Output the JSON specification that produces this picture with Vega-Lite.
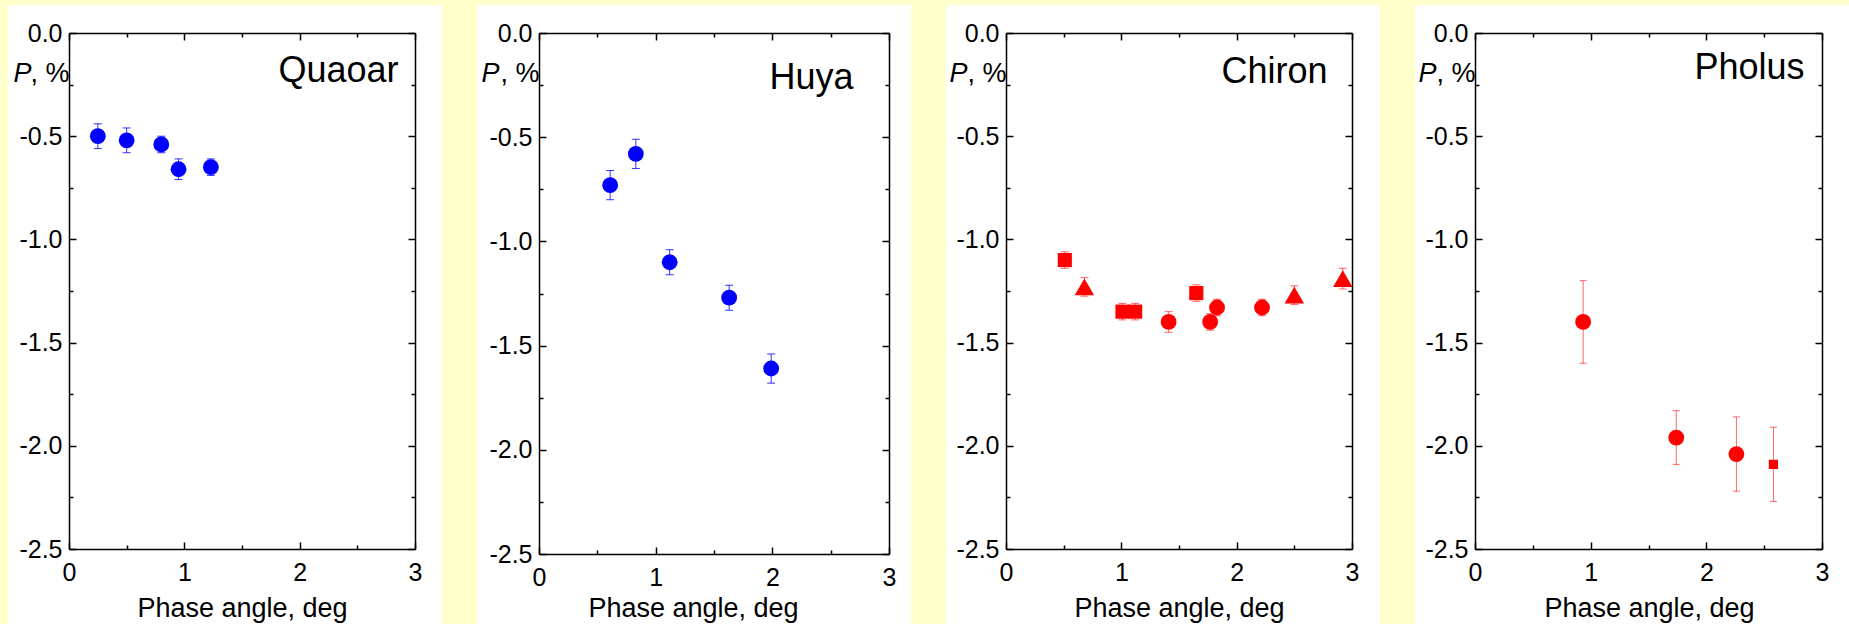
{
  "$schema": "https://vega.github.io/schema/vega-lite/v6.json",
  "background": "#FFFFCC",
  "padding": {"left": 8, "top": 5, "right": 0, "bottom": 0},
  "autosize": {"type": "pad"},
  "bounds": "flush",
  "spacing": 35,
  "config": {
    "font": "Liberation Sans",
    "view": {"fill": "white", "stroke": null},
    "axis": {
      "domainColor": "#000000", "domainWidth": 1.5, "tickColor": "#000000", "tickWidth": 1.5,
      "labelFontSize": 25, "labelColor": "#000000", "labelFont": "Liberation Sans",
      "titleFont": "Liberation Sans", "titleColor": "#000000", "titleFontWeight": "normal", "titleFontSize": 27,
      "grid": false, "labelOverlap": false, "labelFlush": false, "labelBound": false, "zindex": 1,
      "titleAngle": 0, "titleLimit": 1000
    }
  },
  "data": {"values": [
    {"object": "Quaoar", "phase": 0.25, "P": -0.50, "err": 0.06, "symbol": "circle"},
    {"object": "Quaoar", "phase": 0.50, "P": -0.52, "err": 0.06, "symbol": "circle"},
    {"object": "Quaoar", "phase": 0.80, "P": -0.54, "err": 0.04, "symbol": "circle"},
    {"object": "Quaoar", "phase": 0.95, "P": -0.66, "err": 0.05, "symbol": "circle"},
    {"object": "Quaoar", "phase": 1.23, "P": -0.65, "err": 0.04, "symbol": "circle"},
    {"object": "Huya", "phase": 0.61, "P": -0.73, "err": 0.07, "symbol": "circle"},
    {"object": "Huya", "phase": 0.83, "P": -0.58, "err": 0.07, "symbol": "circle"},
    {"object": "Huya", "phase": 1.12, "P": -1.10, "err": 0.06, "symbol": "circle"},
    {"object": "Huya", "phase": 1.63, "P": -1.27, "err": 0.06, "symbol": "circle"},
    {"object": "Huya", "phase": 1.99, "P": -1.61, "err": 0.07, "symbol": "circle"},
    {"object": "Chiron", "phase": 0.51, "P": -1.10, "err": 0.04, "symbol": "square"},
    {"object": "Chiron", "phase": 0.68, "P": -1.23, "err": 0.045, "symbol": "triangle"},
    {"object": "Chiron", "phase": 1.01, "P": -1.35, "err": 0.04, "symbol": "square"},
    {"object": "Chiron", "phase": 1.12, "P": -1.35, "err": 0.04, "symbol": "square"},
    {"object": "Chiron", "phase": 1.41, "P": -1.40, "err": 0.05, "symbol": "circle"},
    {"object": "Chiron", "phase": 1.65, "P": -1.26, "err": 0.04, "symbol": "square"},
    {"object": "Chiron", "phase": 1.77, "P": -1.40, "err": 0.04, "symbol": "circle"},
    {"object": "Chiron", "phase": 1.83, "P": -1.33, "err": 0.04, "symbol": "circle"},
    {"object": "Chiron", "phase": 2.22, "P": -1.33, "err": 0.04, "symbol": "circle"},
    {"object": "Chiron", "phase": 2.50, "P": -1.27, "err": 0.045, "symbol": "triangle"},
    {"object": "Chiron", "phase": 2.92, "P": -1.19, "err": 0.05, "symbol": "triangle"},
    {"object": "Pholus", "phase": 0.935, "P": -1.40, "err": 0.20, "symbol": "circle"},
    {"object": "Pholus", "phase": 1.74, "P": -1.96, "err": 0.13, "symbol": "circle"},
    {"object": "Pholus", "phase": 2.26, "P": -2.04, "err": 0.18, "symbol": "circle"},
    {"object": "Pholus", "phase": 2.58, "P": -2.09, "err": 0.18, "symbol": "small square"}
  ]},
  "hconcat": [
    {
      "width": 434, "height": 619,
      "transform": [{"filter": "datum.object === 'Quaoar'"}],
      "layer": [
        {
          "mark": {"type": "errorbar", "color": "#0000FF", "opacity": 0.8, "thickness": 1, "ticks": {"size": 8, "thickness": 1}},
          "encoding": {
            "x": {"field": "phase", "type": "quantitative",
              "scale": {"domain": [0, 3], "range": [61, 407], "nice": false, "zero": false},
              "axis": {"orient": "top", "offset": -28, "values": [0, 0.5, 1, 1.5, 2, 2.5, 3],
                "tickSize": {"condition": {"test": "datum.value % 1 === 0", "value": -7}, "value": -4},
                "labels": false, "title": "Quaoar", "titleFontSize": 36, "titleX": 390, "titleY": 48,
                "titleAlign": "right", "titleBaseline": "alphabetic"}},
            "y": {"field": "P", "type": "quantitative",
              "scale": {"domain": [-2.5, 0], "range": [544, 28], "nice": false, "zero": false},
              "axis": {"orient": "right", "offset": -27, "values": [-2.5, -2.25, -2, -1.75, -1.5, -1.25, -1, -0.75, -0.5, -0.25, 0],
                "tickSize": {"condition": {"test": "datum.value % 0.5 === 0", "value": -7}, "value": -4},
                "labels": false, "title": ", %", "titleX": -346, "titleY": 76,
                "titleAlign": "right", "titleBaseline": "alphabetic", "titleAngle": 0}},
            "yError": {"field": "err"}
          }
        },
        {
          "mark": {"type": "point", "filled": true, "opacity": 1, "color": "#0000FF"},
          "encoding": {
            "x": {"field": "phase", "type": "quantitative",
              "scale": {"domain": [0, 3], "range": [61, 407], "nice": false, "zero": false},
              "axis": {"orient": "bottom", "offset": -75, "values": [0, 0.5, 1, 1.5, 2, 2.5, 3],
                "tickSize": {"condition": {"test": "datum.value % 1 === 0", "value": -7}, "value": -4},
                "labelExpr": "datum.value % 1 === 0 ? '' + datum.value : ''", "labelPadding": 18,
                "title": "Phase angle, deg", "titleX": 234, "titleY": 67, "titleAlign": "center", "titleBaseline": "alphabetic"}},
            "y": {"field": "P", "type": "quantitative",
              "scale": {"domain": [-2.5, 0], "range": [544, 28], "nice": false, "zero": false},
              "axis": {"orient": "left", "offset": -61, "values": [-2.5, -2.25, -2, -1.75, -1.5, -1.25, -1, -0.75, -0.5, -0.25, 0],
                "tickSize": {"condition": {"test": "datum.value % 0.5 === 0", "value": -7}, "value": -4},
                "labelExpr": "datum.value % 0.5 === 0 ? (datum.value < 0 ? '-' + format(-datum.value, '.1f') : format(datum.value, '.1f')) : ''",
                "labelPadding": 14,
                "title": "P", "titleFontStyle": "italic", "titleX": -56, "titleY": 76,
                "titleAlign": "left", "titleBaseline": "alphabetic", "titleAngle": 0}},
            "shape": {"field": "symbol", "type": "nominal", "legend": null,
              "scale": {"type": "ordinal", "domain": ["circle", "square", "triangle", "small square"], "range": ["circle", "square", "triangle-up", "square"]}},
            "size": {"field": "symbol", "type": "nominal", "legend": null,
              "scale": {"type": "ordinal", "domain": ["circle", "square", "triangle", "small square"], "range": [250, 200, 380, 85]}}
          }
        }
      ]
    },
    {
      "width": 434, "height": 619,
      "transform": [{"filter": "datum.object === 'Huya'"}],
      "layer": [
        {
          "mark": {"type": "errorbar", "color": "#0000FF", "opacity": 0.8, "thickness": 1, "ticks": {"size": 8, "thickness": 1}},
          "encoding": {
            "x": {"field": "phase", "type": "quantitative",
              "scale": {"domain": [0, 3], "range": [62, 412], "nice": false, "zero": false},
              "axis": {"orient": "top", "offset": -28, "values": [0, 0.5, 1, 1.5, 2, 2.5, 3],
                "tickSize": {"condition": {"test": "datum.value % 1 === 0", "value": -7}, "value": -4},
                "labels": false, "title": "Huya", "titleFontSize": 36, "titleX": 376, "titleY": 55,
                "titleAlign": "right", "titleBaseline": "alphabetic"}},
            "y": {"field": "P", "type": "quantitative",
              "scale": {"domain": [-2.5, 0], "range": [549, 28], "nice": false, "zero": false},
              "axis": {"orient": "right", "offset": -22, "values": [-2.5, -2.25, -2, -1.75, -1.5, -1.25, -1, -0.75, -0.5, -0.25, 0],
                "tickSize": {"condition": {"test": "datum.value % 0.5 === 0", "value": -7}, "value": -4},
                "labels": false, "title": ", %", "titleX": -350, "titleY": 76,
                "titleAlign": "right", "titleBaseline": "alphabetic", "titleAngle": 0}},
            "yError": {"field": "err"}
          }
        },
        {
          "mark": {"type": "point", "filled": true, "opacity": 1, "color": "#0000FF"},
          "encoding": {
            "x": {"field": "phase", "type": "quantitative",
              "scale": {"domain": [0, 3], "range": [62, 412], "nice": false, "zero": false},
              "axis": {"orient": "bottom", "offset": -70, "values": [0, 0.5, 1, 1.5, 2, 2.5, 3],
                "tickSize": {"condition": {"test": "datum.value % 1 === 0", "value": -7}, "value": -4},
                "labelExpr": "datum.value % 1 === 0 ? '' + datum.value : ''", "labelPadding": 18,
                "title": "Phase angle, deg", "titleX": 216, "titleY": 62, "titleAlign": "center", "titleBaseline": "alphabetic"}},
            "y": {"field": "P", "type": "quantitative",
              "scale": {"domain": [-2.5, 0], "range": [549, 28], "nice": false, "zero": false},
              "axis": {"orient": "left", "offset": -62, "values": [-2.5, -2.25, -2, -1.75, -1.5, -1.25, -1, -0.75, -0.5, -0.25, 0],
                "tickSize": {"condition": {"test": "datum.value % 0.5 === 0", "value": -7}, "value": -4},
                "labelExpr": "datum.value % 0.5 === 0 ? (datum.value < 0 ? '-' + format(-datum.value, '.1f') : format(datum.value, '.1f')) : ''",
                "labelPadding": 14,
                "title": "P", "titleFontStyle": "italic", "titleX": -58, "titleY": 76,
                "titleAlign": "left", "titleBaseline": "alphabetic", "titleAngle": 0}},
            "shape": {"field": "symbol", "type": "nominal", "legend": null,
              "scale": {"type": "ordinal", "domain": ["circle", "square", "triangle", "small square"], "range": ["circle", "square", "triangle-up", "square"]}},
            "size": {"field": "symbol", "type": "nominal", "legend": null,
              "scale": {"type": "ordinal", "domain": ["circle", "square", "triangle", "small square"], "range": [250, 200, 380, 85]}}
          }
        }
      ]
    },
    {
      "width": 434, "height": 619,
      "transform": [{"filter": "datum.object === 'Chiron'"}],
      "layer": [
        {
          "mark": {"type": "errorbar", "color": "#FF0000", "opacity": 0.6, "thickness": 1, "ticks": {"size": 8, "thickness": 1}},
          "encoding": {
            "x": {"field": "phase", "type": "quantitative",
              "scale": {"domain": [0, 3], "range": [60, 406], "nice": false, "zero": false},
              "axis": {"orient": "top", "offset": -28, "values": [0, 0.5, 1, 1.5, 2, 2.5, 3],
                "tickSize": {"condition": {"test": "datum.value % 1 === 0", "value": -7}, "value": -4},
                "labels": false, "title": "Chiron", "titleFontSize": 36, "titleX": 381, "titleY": 49,
                "titleAlign": "right", "titleBaseline": "alphabetic"}},
            "y": {"field": "P", "type": "quantitative",
              "scale": {"domain": [-2.5, 0], "range": [544, 28], "nice": false, "zero": false},
              "axis": {"orient": "right", "offset": -28, "values": [-2.5, -2.25, -2, -1.75, -1.5, -1.25, -1, -0.75, -0.5, -0.25, 0],
                "tickSize": {"condition": {"test": "datum.value % 0.5 === 0", "value": -7}, "value": -4},
                "labels": false, "title": ", %", "titleX": -346, "titleY": 76,
                "titleAlign": "right", "titleBaseline": "alphabetic", "titleAngle": 0}},
            "yError": {"field": "err"}
          }
        },
        {
          "mark": {"type": "point", "filled": true, "opacity": 1, "color": "#FF0000"},
          "encoding": {
            "x": {"field": "phase", "type": "quantitative",
              "scale": {"domain": [0, 3], "range": [60, 406], "nice": false, "zero": false},
              "axis": {"orient": "bottom", "offset": -75, "values": [0, 0.5, 1, 1.5, 2, 2.5, 3],
                "tickSize": {"condition": {"test": "datum.value % 1 === 0", "value": -7}, "value": -4},
                "labelExpr": "datum.value % 1 === 0 ? '' + datum.value : ''", "labelPadding": 18,
                "title": "Phase angle, deg", "titleX": 233, "titleY": 67, "titleAlign": "center", "titleBaseline": "alphabetic"}},
            "y": {"field": "P", "type": "quantitative",
              "scale": {"domain": [-2.5, 0], "range": [544, 28], "nice": false, "zero": false},
              "axis": {"orient": "left", "offset": -60, "values": [-2.5, -2.25, -2, -1.75, -1.5, -1.25, -1, -0.75, -0.5, -0.25, 0],
                "tickSize": {"condition": {"test": "datum.value % 0.5 === 0", "value": -7}, "value": -4},
                "labelExpr": "datum.value % 0.5 === 0 ? (datum.value < 0 ? '-' + format(-datum.value, '.1f') : format(datum.value, '.1f')) : ''",
                "labelPadding": 14,
                "title": "P", "titleFontStyle": "italic", "titleX": -57, "titleY": 76,
                "titleAlign": "left", "titleBaseline": "alphabetic", "titleAngle": 0}},
            "shape": {"field": "symbol", "type": "nominal", "legend": null,
              "scale": {"type": "ordinal", "domain": ["circle", "square", "triangle", "small square"], "range": ["circle", "square", "triangle-up", "square"]}},
            "size": {"field": "symbol", "type": "nominal", "legend": null,
              "scale": {"type": "ordinal", "domain": ["circle", "square", "triangle", "small square"], "range": [250, 200, 380, 85]}}
          }
        }
      ]
    },
    {
      "width": 434, "height": 619,
      "transform": [{"filter": "datum.object === 'Pholus'"}],
      "layer": [
        {
          "mark": {"type": "errorbar", "color": "#FF0000", "opacity": 0.6, "thickness": 1, "ticks": {"size": 7, "thickness": 1}},
          "encoding": {
            "x": {"field": "phase", "type": "quantitative",
              "scale": {"domain": [0, 3], "range": [60, 407], "nice": false, "zero": false},
              "axis": {"orient": "top", "offset": -28, "values": [0, 0.5, 1, 1.5, 2, 2.5, 3],
                "tickSize": {"condition": {"test": "datum.value % 1 === 0", "value": -7}, "value": -4},
                "labels": false, "title": "Pholus", "titleFontSize": 36, "titleX": 389, "titleY": 45,
                "titleAlign": "right", "titleBaseline": "alphabetic"}},
            "y": {"field": "P", "type": "quantitative",
              "scale": {"domain": [-2.5, 0], "range": [544, 28], "nice": false, "zero": false},
              "axis": {"orient": "right", "offset": -27, "values": [-2.5, -2.25, -2, -1.75, -1.5, -1.25, -1, -0.75, -0.5, -0.25, 0],
                "tickSize": {"condition": {"test": "datum.value % 0.5 === 0", "value": -7}, "value": -4},
                "labels": false, "title": ", %", "titleX": -347, "titleY": 76,
                "titleAlign": "right", "titleBaseline": "alphabetic", "titleAngle": 0}},
            "yError": {"field": "err"}
          }
        },
        {
          "mark": {"type": "point", "filled": true, "opacity": 1, "color": "#FF0000"},
          "encoding": {
            "x": {"field": "phase", "type": "quantitative",
              "scale": {"domain": [0, 3], "range": [60, 407], "nice": false, "zero": false},
              "axis": {"orient": "bottom", "offset": -75, "values": [0, 0.5, 1, 1.5, 2, 2.5, 3],
                "tickSize": {"condition": {"test": "datum.value % 1 === 0", "value": -7}, "value": -4},
                "labelExpr": "datum.value % 1 === 0 ? '' + datum.value : ''", "labelPadding": 18,
                "title": "Phase angle, deg", "titleX": 234, "titleY": 67, "titleAlign": "center", "titleBaseline": "alphabetic"}},
            "y": {"field": "P", "type": "quantitative",
              "scale": {"domain": [-2.5, 0], "range": [544, 28], "nice": false, "zero": false},
              "axis": {"orient": "left", "offset": -60, "values": [-2.5, -2.25, -2, -1.75, -1.5, -1.25, -1, -0.75, -0.5, -0.25, 0],
                "tickSize": {"condition": {"test": "datum.value % 0.5 === 0", "value": -7}, "value": -4},
                "labelExpr": "datum.value % 0.5 === 0 ? (datum.value < 0 ? '-' + format(-datum.value, '.1f') : format(datum.value, '.1f')) : ''",
                "labelPadding": 14,
                "title": "P", "titleFontStyle": "italic", "titleX": -57, "titleY": 76,
                "titleAlign": "left", "titleBaseline": "alphabetic", "titleAngle": 0}},
            "shape": {"field": "symbol", "type": "nominal", "legend": null,
              "scale": {"type": "ordinal", "domain": ["circle", "square", "triangle", "small square"], "range": ["circle", "square", "triangle-up", "square"]}},
            "size": {"field": "symbol", "type": "nominal", "legend": null,
              "scale": {"type": "ordinal", "domain": ["circle", "square", "triangle", "small square"], "range": [250, 200, 380, 85]}}
          }
        }
      ]
    }
  ]
}
